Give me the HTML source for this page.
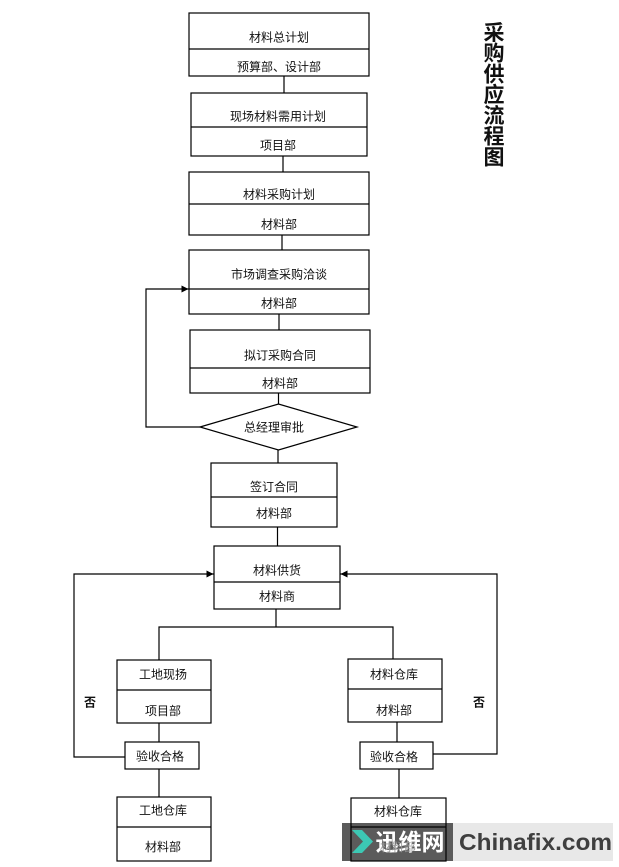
<!DOCTYPE html>
<html><head><meta charset="utf-8"><style>
html,body{margin:0;padding:0;background:#fff;}
svg{display:block;}
text{font-family:"Liberation Sans","Noto Sans CJK SC",sans-serif;font-size:12px;fill:#111;}
</style></head><body>
<svg width="619" height="867" viewBox="0 0 619 867" xmlns="http://www.w3.org/2000/svg">
<defs>
<marker id="ar" viewBox="0 0 10 10" refX="10" refY="5" markerWidth="7" markerHeight="7" orient="auto" markerUnits="userSpaceOnUse">
<path d="M0,0 L10,5 L0,10 z" fill="#000"/>
</marker>
</defs>
<rect width="619" height="867" fill="#fff"/>

<!-- watermark -->
<rect x="342" y="823" width="111" height="38" fill="#5b5b5b"/>
<rect x="453" y="823" width="160" height="38" fill="#e8e8e8"/>
<path d="M352,830 L362,830 L373,841.5 L362,853 L352,853 L363,841.5 z" fill="#3cc8b4"/>
<text x="410" y="850" text-anchor="middle" style="font-size:23px;font-weight:bold;fill:#fff;font-family:'Noto Sans CJK SC',sans-serif">迅维网</text>
<text x="459" y="850" textLength="153" lengthAdjust="spacingAndGlyphs" style="font-size:23px;font-weight:bold;fill:#3f3f3f;font-family:'Liberation Sans',sans-serif">Chinafix.com</text>

<g fill="none" stroke="#000" stroke-width="1.2">
<!-- boxes -->
<rect x="189" y="13" width="180" height="63"/><line x1="189" y1="49" x2="369" y2="49"/>
<rect x="191" y="93" width="176" height="63"/><line x1="191" y1="127" x2="367" y2="127"/>
<rect x="189" y="172" width="180" height="63"/><line x1="189" y1="204" x2="369" y2="204"/>
<rect x="189" y="250" width="180" height="64"/><line x1="189" y1="289" x2="369" y2="289"/>
<rect x="190" y="330" width="180" height="63"/><line x1="190" y1="368" x2="370" y2="368"/>
<polygon points="200,427 278.5,404 357,427 278.5,450"/>
<rect x="211" y="463" width="126" height="64"/><line x1="211" y1="497" x2="337" y2="497"/>
<rect x="214" y="546" width="126" height="63"/><line x1="214" y1="582" x2="340" y2="582"/>
<rect x="117" y="660" width="94" height="63"/><line x1="117" y1="690" x2="211" y2="690"/>
<rect x="348" y="659" width="94" height="63"/><line x1="348" y1="689" x2="442" y2="689"/>
<rect x="125" y="742" width="74" height="27"/>
<rect x="360" y="742" width="73" height="27"/>
<rect x="117" y="797" width="94" height="64"/><line x1="117" y1="827" x2="211" y2="827"/>
<rect x="351" y="798" width="95" height="63"/><line x1="351" y1="827" x2="446" y2="827"/>

<!-- connectors -->
<line x1="284" y1="76" x2="284" y2="93"/>
<line x1="283" y1="156" x2="283" y2="172"/>
<line x1="282" y1="235" x2="282" y2="250"/>
<line x1="279" y1="314" x2="279" y2="330"/>
<line x1="278.5" y1="393" x2="278.5" y2="404"/>
<line x1="278" y1="450" x2="278" y2="463"/>
<line x1="277.5" y1="527" x2="277.5" y2="546"/>
<line x1="276" y1="609" x2="276" y2="627"/>
<polyline points="159,660 159,627 393,627 393,659"/>
<line x1="159" y1="723" x2="159" y2="742"/>
<line x1="159" y1="769" x2="159" y2="797"/>
<line x1="397" y1="722" x2="397" y2="742"/>
<line x1="399" y1="769" x2="399" y2="798"/>

<!-- loops with arrows -->
<polyline points="200,427 146,427 146,289 188.5,289" marker-end="url(#ar)"/>
<polyline points="125,757 74,757 74,574 213.5,574" marker-end="url(#ar)"/>
<polyline points="433,754 497,754 497,574 340.5,574" marker-end="url(#ar)"/>
</g>

<!-- box texts -->
<g text-anchor="middle">
<text x="279" y="41.5">材料总计划</text>
<text x="279" y="71">预算部、设计部</text>
<text x="278" y="120.5">现场材料需用计划</text>
<text x="278" y="149.5">项目部</text>
<text x="279" y="198.5">材料采购计划</text>
<text x="279" y="228.5">材料部</text>
<text x="279" y="278.5">市场调查采购洽谈</text>
<text x="279" y="307.5">材料部</text>
<text x="280" y="359.5">拟订采购合同</text>
<text x="280" y="387.5">材料部</text>
<text x="274" y="431.5">总经理审批</text>
<text x="274" y="491">签订合同</text>
<text x="274" y="517.5">材料部</text>
<text x="277" y="574.5">材料供货</text>
<text x="277" y="600.5">材料商</text>
<text x="163" y="678.5">工地现扬</text>
<text x="163" y="715">项目部</text>
<text x="394" y="678.5">材料仓库</text>
<text x="394" y="714.5">材料部</text>
<text x="160" y="760.5">验收合格</text>
<text x="394" y="761">验收合格</text>
<text x="163" y="814.5">工地仓库</text>
<text x="163" y="851">材料部</text>
<text x="398" y="815.5">材料仓库</text>
<text x="398" y="851" style="fill:#9a9a9a">材料部</text>
<text x="90" y="706.5" style="font-weight:bold">否</text>
<text x="479" y="706.5" style="font-weight:bold">否</text>
</g>

<!-- title -->
<g text-anchor="middle" style="font-family:'Noto Sans CJK SC',sans-serif">
<text x="494" y="40" style="font-size:21px;font-weight:bold;font-family:'Noto Sans CJK SC',sans-serif">采</text>
<text x="494" y="60.7" style="font-size:21px;font-weight:bold;font-family:'Noto Sans CJK SC',sans-serif">购</text>
<text x="494" y="81.4" style="font-size:21px;font-weight:bold;font-family:'Noto Sans CJK SC',sans-serif">供</text>
<text x="494" y="102.1" style="font-size:21px;font-weight:bold;font-family:'Noto Sans CJK SC',sans-serif">应</text>
<text x="494" y="122.8" style="font-size:21px;font-weight:bold;font-family:'Noto Sans CJK SC',sans-serif">流</text>
<text x="494" y="143.5" style="font-size:21px;font-weight:bold;font-family:'Noto Sans CJK SC',sans-serif">程</text>
<text x="494" y="164.5" style="font-size:21px;font-weight:bold;font-family:'Noto Sans CJK SC',sans-serif">图</text>
</g>
</svg>
</body></html>
